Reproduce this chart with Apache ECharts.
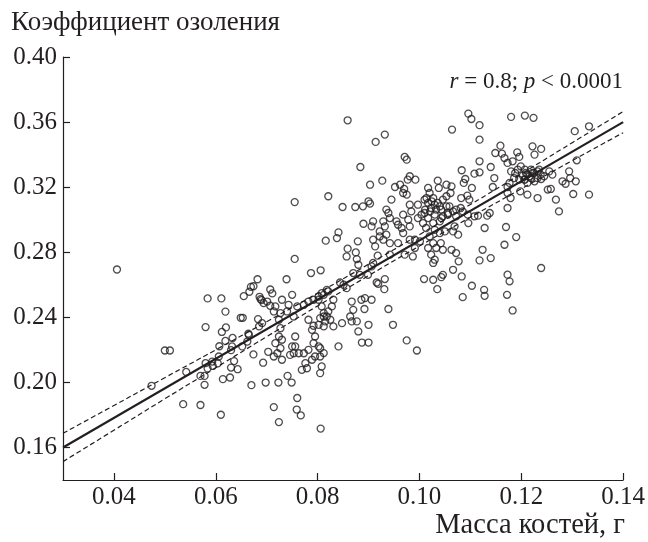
<!DOCTYPE html>
<html><head><meta charset="utf-8">
<script src="https://cdn.jsdelivr.net/npm/echarts@6/dist/echarts.min.js"></script>
<style>html,body{margin:0;padding:0;background:#fff}#c{width:648px;height:542px}</style>
</head><body><div id="c"></div>
<script>
const xTicks = [0.04, 0.06, 0.08, 0.10, 0.12, 0.14];
const yTicks = [0.16, 0.20, 0.24, 0.28, 0.32, 0.36, 0.40];
const fitX = [0.03, 0.14];
const fitY = [0.16, 0.36];
const bandX = [0.03, 0.04, 0.05, 0.06, 0.07, 0.08, 0.09, 0.10, 0.11, 0.12, 0.13, 0.14];
const bandUpper = [0.1687, 0.1858, 0.2029, 0.2200, 0.2373, 0.2548, 0.2726, 0.2908, 0.3093, 0.3282, 0.3473, 0.3665];
const bandLower = [0.1513, 0.1706, 0.1899, 0.2090, 0.2281, 0.2470, 0.2656, 0.2838, 0.3015, 0.3190, 0.3363, 0.3535];
const points = [
[0.0406,0.2694],[0.0584,0.2516],[0.0580,0.2340],[0.0500,0.2196],[0.0510,0.2196],[0.0542,0.2064],[0.0570,0.2040],[0.0578,0.2040],[0.0584,0.2086],[0.0578,0.1985],[0.0474,0.1979],[0.0536,0.1866],[0.0570,0.1861],
[0.0755,0.3108],[0.0816,0.2871],[0.0755,0.2759],[0.0787,0.2672],[0.0806,0.2689],[0.0739,0.2634],[0.0682,0.2634],[0.0669,0.2587],[0.0674,0.2591],[0.0666,0.2557],[0.0655,0.2530],[0.0707,0.2571],[0.0711,0.2547],[0.0686,0.2526],[0.0690,0.2506],[0.0611,0.2516],[0.0619,0.2435],[0.0649,0.2397],[0.0653,0.2397],[0.0620,0.2338],[0.0612,0.2310],[0.0633,0.2273],[0.0664,0.2299],[0.0607,0.2222],[0.0619,0.2255],[0.0630,0.2198],[0.0636,0.2131],[0.0643,0.2081],[0.0630,0.2091],[0.0604,0.2117],[0.0594,0.2101],[0.0614,0.2020],[0.0628,0.2030],[0.0674,0.2172],[0.0693,0.2121],[0.0703,0.2188],[0.0670,0.1983],[0.0698,0.1999],[0.0723,0.1999],[0.0741,0.2040],[0.0749,0.1999],[0.0610,0.1801],[0.0714,0.1848],[0.0760,0.1904],[0.0759,0.1833],[0.0767,0.1797],[0.0724,0.1756],[0.0806,0.1716],
[0.0688,0.2512],[0.0694,0.2487],[0.0701,0.2497],[0.0707,0.2471],[0.0717,0.2467],[0.0730,0.2508],[0.0743,0.2477],[0.0750,0.2538],[0.0760,0.2467],[0.0773,0.2477],[0.0782,0.2497],[0.0792,0.2508],[0.0802,0.2528],[0.0812,0.2538],[0.0818,0.2569],[0.0714,0.2436],[0.0727,0.2426],[0.0740,0.2436],[0.0753,0.2405],[0.0724,0.2385],[0.0683,0.2389],[0.0691,0.2364],[0.0685,0.2344],[0.0665,0.2292],[0.0662,0.2251],[0.0652,0.2221],[0.0632,0.2221],[0.0606,0.2159],[0.0593,0.2128],[0.0580,0.2118],[0.0782,0.2385],[0.0792,0.2348],[0.0802,0.2354],[0.0812,0.2344],[0.0789,0.2323],[0.0795,0.2282],[0.0792,0.2241],[0.0802,0.2221],[0.0782,0.2200],[0.0795,0.2159],[0.0789,0.2139],[0.0776,0.2118],[0.0779,0.2087],[0.0769,0.2077],[0.0756,0.2221],[0.0763,0.2179],[0.0773,0.2179],[0.0750,0.2221],[0.0756,0.2282],[0.0727,0.2333],[0.0724,0.2282],[0.0717,0.2241],[0.0727,0.2210],[0.0721,0.2179],[0.0714,0.2159],[0.0730,0.2139],[0.0746,0.2169],[0.0753,0.2179],[0.0812,0.2405],[0.0730,0.2262],
[0.0859,0.3611],[0.0914,0.3478],[0.0932,0.3523],[0.0971,0.3386],[0.0975,0.3369],[0.0884,0.3324],[0.0927,0.3240],[0.0903,0.3215],[0.0821,0.3144],[0.0849,0.3078],[0.0874,0.3078],[0.0889,0.3082],[0.0903,0.3099],[0.0900,0.3113],
[0.0952,0.3201],[0.0962,0.3215],[0.0970,0.3189],[0.0977,0.3246],[0.0981,0.3267],[0.0992,0.3246],[0.0968,0.3164],[0.0975,0.3154],
[0.1036,0.3240],[0.1038,0.3195],
[0.1017,0.3195],[0.1020,0.3164],[0.1010,0.3123],[0.1027,0.3133],[0.1036,0.3103],[0.1046,0.3123],[0.1017,0.3103],[0.1023,0.3072],[0.1033,0.3062],[0.1043,0.3062],[0.1053,0.3082],
[0.0945,0.3123],[0.0935,0.3062],[0.0939,0.3041],[0.0942,0.3010],[0.0955,0.2990],[0.0929,0.2990],[0.0932,0.2959],
[0.0981,0.3092],[0.0997,0.3092],[0.0984,0.3051],[0.0968,0.3031],[0.0978,0.3000],[0.0981,0.2959],[0.0997,0.3010],[0.1004,0.3031],
[0.1010,0.3041],[0.1017,0.3010],[0.1007,0.2979],[0.1013,0.2949],[0.1027,0.2979],[0.1030,0.2938],[0.1040,0.2918],[0.1050,0.2928],[0.1020,0.2897],[0.1027,0.2856],[0.1017,0.2826],[0.1033,0.2826],[0.1046,0.2815],[0.1023,0.2785],[0.1030,0.2754],[0.1027,0.2734],
[0.0890,0.2975],[0.0906,0.2959],[0.0909,0.2990],[0.0922,0.2928],[0.0935,0.2908],[0.0922,0.2897],[0.0913,0.2836],[0.0942,0.2856],[0.0958,0.2856],[0.0968,0.2918],[0.0981,0.2877],[0.0991,0.2877],[0.1001,0.2867],
[0.0838,0.2887],[0.0841,0.2922],
[0.0859,0.2822],[0.0857,0.2774],[0.0875,0.2799],[0.0877,0.2758],[0.0880,0.2723],[0.0879,0.2867],
[0.0918,0.2779],[0.0942,0.2785],[0.0971,0.2785],[0.0987,0.2774],[0.0991,0.2826],
[0.0909,0.2734],[0.0906,0.2713],
[0.0870,0.2672],[0.0883,0.2661],[0.0899,0.2661],
[0.0916,0.2614],[0.0919,0.2606],[0.0932,0.2635],[0.0931,0.2573],
[0.0844,0.2614],[0.0851,0.2600],[0.0857,0.2579],
[0.0821,0.2559],[0.0808,0.2549],[0.0802,0.2508],
[0.0831,0.2508],[0.0828,0.2467],[0.0821,0.2436],[0.0818,0.2405],[0.0825,0.2385],[0.0815,0.2375],
[0.0808,0.2467],[0.0812,0.2426],[0.0805,0.2395],
[0.0867,0.2497],[0.0870,0.2446],[0.0886,0.2508],[0.0893,0.2518],[0.0906,0.2508],[0.0892,0.2451],
[0.0864,0.2405],[0.0867,0.2375],[0.0877,0.2375],[0.0880,0.2313],[0.0900,0.2354],[0.0831,0.2344],[0.0848,0.2364],
[0.0939,0.2451],[0.0948,0.2354],
[0.1009,0.2635],[0.1027,0.2631],[0.1046,0.2661],[0.1035,0.2573],
[0.0975,0.2258],[0.0995,0.2196],
[0.0887,0.2245],[0.0900,0.2245],
[0.0841,0.2221],
[0.0805,0.2210],[0.0812,0.2180],[0.0805,0.2159],[0.0808,0.2098],[0.0805,0.2057],
[0.1053,0.3215],[0.1053,0.3144],
[0.0958,0.2969],[0.0965,0.2949],[0.0909,0.2877],[0.0929,0.2877],
[0.1096,0.3652],[0.1102,0.3619],[0.1118,0.3581],[0.1180,0.3632],[0.1207,0.3640],[0.1224,0.3626],[0.1064,0.3554],[0.1118,0.3492],[0.1305,0.3544],[0.1333,0.3574],
[0.1159,0.3455],[0.1149,0.3410],[0.1162,0.3406],[0.1167,0.3379],[0.1173,0.3349],[0.1192,0.3414],[0.1196,0.3386],[0.1183,0.3359],[0.1180,0.3297],[0.1188,0.3287],[0.1199,0.3328],[0.1207,0.3308],[0.1203,0.3271],[0.1212,0.3277],[0.1222,0.3287],[0.1232,0.3297],[0.1219,0.3256],[0.1207,0.3246],[0.1226,0.3236],[0.1239,0.3250],[0.1245,0.3267],[0.1255,0.3297],[0.1261,0.3277],[0.1235,0.3308],
[0.1222,0.3451],[0.1226,0.3400],[0.1239,0.3435],
[0.1118,0.3359],[0.1140,0.3324],[0.1118,0.3291],[0.1108,0.3283],[0.1083,0.3304],[0.1090,0.3250],[0.1087,0.3226],[0.1103,0.3195],
[0.1147,0.3256],[0.1144,0.3201],[0.1173,0.3201],[0.1173,0.3164],[0.1179,0.3133],[0.1173,0.3072],
[0.1198,0.3174],[0.1212,0.3154],[0.1232,0.3133],[0.1252,0.3185],[0.1258,0.3189],[0.1268,0.3123],[0.1274,0.3051],
[0.1281,0.3236],[0.1287,0.3221],[0.1296,0.3256],[0.1294,0.3297],[0.1307,0.3236],[0.1309,0.3365],[0.1302,0.3158],[0.1333,0.3154],
[0.1063,0.3205],[0.1061,0.3164],[0.1082,0.3133],[0.1094,0.3148],[0.1098,0.3123],[0.1059,0.3082],[0.1072,0.3062],[0.1081,0.3072],[0.1085,0.3051],[0.1072,0.3021],[0.1056,0.3031],[0.1046,0.3021],[0.1040,0.2990],
[0.1095,0.3031],[0.1108,0.3021],[0.1115,0.3025],[0.1133,0.3025],[0.1138,0.3041],[0.1096,0.2979],
[0.1066,0.2928],[0.1076,0.2908],[0.1069,0.2959],[0.1042,0.2856],[0.1063,0.2815],[0.1072,0.2795],[0.1077,0.2744],[0.1066,0.2692],
[0.1128,0.2949],[0.1170,0.2955],[0.1190,0.2893],[0.1167,0.2846],[0.1124,0.2815],[0.1140,0.2764],[0.1118,0.2750],
[0.1043,0.2647],[0.1083,0.2651],[0.1103,0.2594],[0.1127,0.2569],[0.1128,0.2532],[0.1085,0.2524],
[0.1173,0.2662],[0.1177,0.2621],[0.1172,0.2538],[0.1183,0.2442],[0.1239,0.2703],
[0.1193,0.3308],[0.1209,0.3287],[0.1216,0.3267],[0.1206,0.3246],[0.1219,0.3308],[0.1225,0.3287],[0.1232,0.3256],[0.1238,0.3277],[0.1212,0.3226],[0.1196,0.3246],[0.1186,0.3256],[0.1177,0.3226],
[0.1014,0.3133],[0.1024,0.3113],[0.1030,0.3092],[0.1040,0.3082],[0.1011,0.3061],[0.1021,0.3051],[0.1030,0.3031],[0.1043,0.3010],[0.1056,0.3041],[0.1066,0.3051]
];

const ink = '#231f20';
const font = '"Liberation Serif","Times New Roman",serif';
const chart = echarts.init(document.getElementById('c'), null, {renderer: 'canvas'});
const zip = (a, b) => a.map((v, i) => [v, b[i]]);
chart.setOption({
  animation: false,
  backgroundColor: '#fff',
  title: [
    {text: 'Коэффициент озоления', left: 6, top: 4, textStyle: {fontFamily: font, fontSize: 27, fontWeight: 'normal', color: ink}},
    {text: '{i|r} = 0.8; {i|p} < 0.0001', right: 20, top: 65,
     textStyle: {fontFamily: font, fontSize: 23, fontWeight: 'normal', color: ink,
       rich: {i: {fontFamily: font, fontSize: 23, fontStyle: 'italic', color: ink}}}},
    {text: 'Масса костей, г', right: 18, top: 506, textStyle: {fontFamily: font, fontSize: 28.5, fontWeight: 'normal', color: ink}}
  ],
  grid: {left: 63, right: 22, top: 57, bottom: 62, containLabel: false},
  xAxis: {
    type: 'value', min: 0.03, max: 0.14,
    axisLine: {show: true, lineStyle: {color: ink, width: 1.2}},
    axisTick: {show: true, inside: true, length: 7, customValues: xTicks, lineStyle: {color: ink, width: 1.2}},
    axisLabel: {customValues: xTicks, formatter: v => v.toFixed(2), color: ink, fontFamily: font, fontSize: 25, margin: 5},
    splitLine: {show: false}
  },
  yAxis: {
    type: 'value', min: 0.14, max: 0.40,
    axisLine: {show: true, lineStyle: {color: ink, width: 1.2}},
    axisTick: {show: true, inside: true, length: 7, customValues: yTicks, lineStyle: {color: ink, width: 1.2}},
    axisLabel: {customValues: yTicks, formatter: v => v.toFixed(2), color: ink, fontFamily: font, fontSize: 25, margin: 6},
    splitLine: {show: false}
  },
  series: [
    {type: 'scatter', data: points, symbol: 'circle', symbolSize: 7,
     itemStyle: {color: 'rgba(0,0,0,0)', borderColor: ink, borderWidth: 1.3}, silent: true},
    {type: 'line', data: zip(fitX, fitY), symbol: 'none', lineStyle: {color: ink, width: 2.2}, z: 5, silent: true},
    {type: 'line', data: zip(bandX, bandUpper), symbol: 'none', smooth: true, lineStyle: {color: ink, width: 1.2, type: [5, 3]}, z: 5, silent: true},
    {type: 'line', data: zip(bandX, bandLower), symbol: 'none', smooth: true, lineStyle: {color: ink, width: 1.2, type: [5, 3]}, z: 5, silent: true}
  ]
});
</script></body></html>
